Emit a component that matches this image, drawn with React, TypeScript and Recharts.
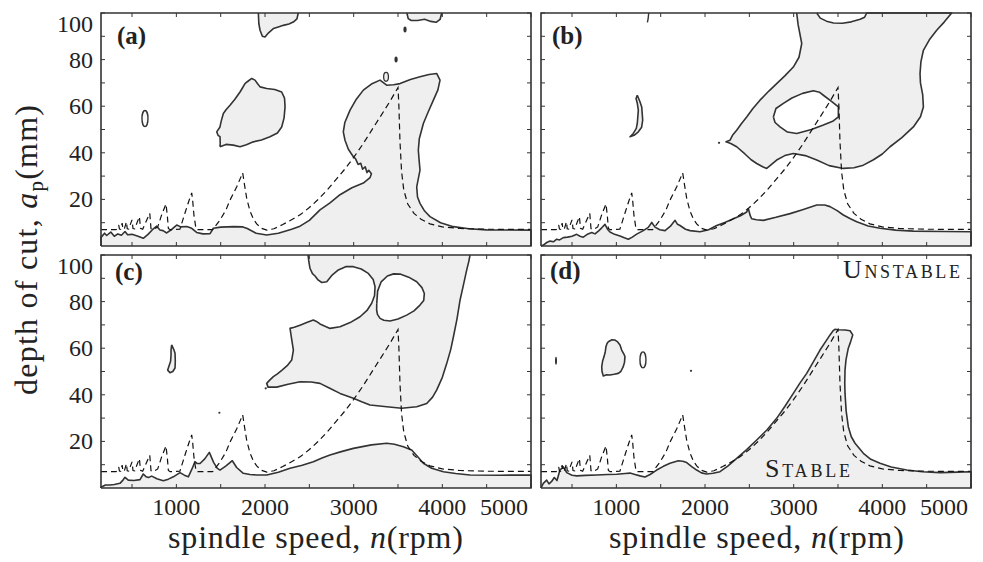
import React from 'react';
import { ScatterChart, Scatter, XAxis, YAxis } from 'recharts';

type Pt = [number, number];

// axes
const X_DOMAIN: [number, number] = [150, 5000];
const Y_DOMAIN: [number, number] = [0, 100];
const xTicks = [500, 1000, 1500, 2000, 2500, 3000, 3500, 4000, 4500, 5000];
const xLabels = [1000, 2000, 3000, 4000, 5000];
const yTicks = [10, 20, 30, 40, 50, 60, 70, 80, 90, 100];
const yLabels = [20, 40, 60, 80, 100];

// analytic stability lobes (dashed), same in every panel
const lobeLine: Pt[] = [
  [150, 7], [320, 7], [338, 7.6], [350, 9], [358, 7.3], [372, 7.2], [389, 9.8], [397, 7.3],
  [412, 7.2], [437, 10.4], [446, 7.4], [462, 7.3], [500, 11.2], [511, 7.5], [530, 7.4],
  [583, 12.6], [596, 7.6], [620, 7.2], [700, 14], [714, 7.5], [740, 7], [790, 8.2],
  [835, 13.5], [883, 18], [898, 13], [910, 7.5], [930, 7], [1040, 7.2], [1100, 14.5],
  [1140, 19.2], [1173, 22.8], [1184, 19.5], [1199, 13], [1222, 7.3], [1240, 7], [1410, 7],
  [1490, 11], [1560, 15.5], [1605, 19.7], [1681, 25.4], [1748, 31.4], [1767, 26.7],
  [1794, 20.3], [1831, 15], [1870, 11.5], [1906, 9.5], [1960, 7.6], [2020, 6.8],
  [2100, 7.4], [2200, 9.2], [2300, 11.3], [2400, 13.5], [2500, 16.5], [2600, 20],
  [2700, 24], [2800, 28.5], [2900, 33], [3000, 38], [3100, 43.5], [3200, 49.5],
  [3300, 55.5], [3400, 61.5], [3500, 68], [3510, 60], [3522, 45], [3540, 32], [3565, 24],
  [3610, 18], [3680, 14], [3760, 11.5], [3860, 9.5], [4000, 8.2], [4200, 7.5], [4500, 7.2],
  [5000, 7.1],
];

// panel (a)
const aStable: Pt[] = [
  [150, 0], [150, 3.7], [190, 5.5], [214, 4.5], [260, 6], [300, 4.2], [340, 5.2], [380, 4.6],
  [421, 6.2], [450, 4.8], [500, 5], [560, 4.3], [627, 3.3], [680, 5], [730, 7], [778, 8.5],
  [815, 6.9], [850, 6.6], [891, 5.6], [950, 7.2], [1004, 9], [1050, 8.2], [1117, 8.4],
  [1173, 7.6], [1229, 5.8], [1300, 5.2], [1380, 5.3], [1417, 7.6], [1500, 8.1], [1650, 8.3],
  [1750, 8.2], [1800, 7.5], [1900, 5.5], [2019, 4.7], [2150, 5.5], [2300, 7.2], [2395, 8.5],
  [2500, 11], [2620, 15.5], [2733, 18.5], [2846, 22], [2980, 25], [3109, 27], [3184, 29.3],
  [3200, 31], [3170, 32.5], [3150, 31.5], [3130, 34], [3100, 33], [3080, 35.5], [3050, 35],
  [3020, 37.5], [2996, 38.3], [2940, 41.5], [2902, 45.4], [2883, 49], [2900, 53], [2959, 58.3],
  [3030, 63], [3109, 66.9], [3200, 69.5], [3297, 71.2], [3372, 69], [3450, 69.2], [3523, 69.7],
  [3640, 71.5], [3748, 72.6], [3850, 73.6], [3937, 74], [3974, 71.2], [3950, 67], [3899, 62.6],
  [3840, 57.5], [3786, 52.6], [3740, 46], [3729, 41.1], [3740, 36], [3748, 32.6], [3711, 25.4],
  [3720, 21], [3748, 18.3], [3800, 15], [3861, 12.6], [3980, 10], [4124, 8.3], [4300, 7.4],
  [4500, 6.9], [5000, 6.8], [5000, 0],
];
const aIsland: Pt[] = [
  [1492, 42.6], [1560, 43.6], [1642, 43.3], [1718, 42.6], [1790, 43.5], [1868, 44.7],
  [1960, 45.5], [2056, 46.9], [2140, 48.5], [2188, 51.1], [2215, 55], [2226, 59.7],
  [2220, 63.5], [2188, 66.1], [2110, 67.2], [2019, 67.6], [1944, 68.3], [1910, 70],
  [1887, 71.2], [1850, 71.9], [1800, 70.5], [1774, 69.7], [1740, 67.5], [1718, 66.1],
  [1660, 63], [1605, 60.4], [1560, 58.5], [1530, 56.9], [1505, 53.5], [1492, 51.1],
  [1455, 49], [1470, 47.5], [1492, 46.9], [1495, 44], [1492, 42.6],
];
const aTopLeft: Pt[] = [
  [1925, 100], [1930, 95.5], [1944, 92.6], [1970, 90], [2000, 89.7], [2040, 91.5],
  [2094, 93.3], [2150, 94], [2206, 94.7], [2270, 95.3], [2319, 96.1], [2360, 97.5], [2375, 100],
];
const aTopRight: Pt[] = [
  [3600, 100], [3615, 97.6], [3650, 96.8], [3720, 96.8], [3800, 97.3], [3870, 96.4],
  [3930, 96], [3975, 97.3], [3993, 100],
];
const aBlobs: Pt[] = [[3579, 92.9], [3478, 80]];
const aRings: Pt[] = [[3365, 72.6]];
const aOvals: Pt[] = [[646, 54.7]];

// panel (b)
const bStable: Pt[] = [
  [150, 0], [176, 0.4], [215, 1.5], [252, 2.1], [290, 1.8], [327, 2.9], [360, 2.6], [402, 3.6],
  [450, 3.8], [500, 4.2], [553, 5], [590, 4.2], [627, 3.8], [680, 5.2], [722, 5.8], [759, 5.2],
  [800, 6.5], [835, 7.8], [872, 9.3], [900, 7.2], [928, 6], [980, 5], [1041, 4.3], [1090, 3.5],
  [1135, 2.9], [1180, 3.8], [1229, 5.1], [1304, 6.6], [1360, 8], [1399, 10.1], [1436, 8.1],
  [1490, 7], [1549, 6.6], [1610, 8.5], [1662, 11], [1690, 9.3], [1718, 8.8], [1780, 7.2],
  [1831, 6.6], [1944, 6.1], [2040, 7], [2132, 8.8], [2230, 10.2], [2320, 11.7], [2400, 13],
  [2470, 14.6], [2489, 16], [2510, 13], [2526, 11.7], [2580, 11.3], [2658, 11], [2800, 12.3],
  [2959, 13.9], [3100, 15.6], [3260, 17.6], [3350, 17.6], [3410, 16.9], [3490, 15.2],
  [3560, 13.3], [3640, 11.7], [3711, 10.4], [3840, 8.6], [3974, 7.6], [4150, 6.8],
  [4350, 6.4], [4700, 6.2], [5000, 6.1], [5000, 0],
];
const bUpper: Pt[] = [
  [3034, 100], [3050, 95], [3091, 86.9], [3060, 81], [2996, 76.8], [2900, 73], [2808, 69.7],
  [2720, 66.5], [2620, 62.6], [2540, 59], [2470, 55.4], [2410, 52.5], [2357, 49.7],
  [2310, 47.5], [2282, 45.4], [2237, 44.7], [2290, 44], [2357, 42.6], [2450, 39.5],
  [2520, 37], [2583, 35.4], [2650, 34], [2696, 33.3], [2750, 35], [2808, 36.9], [2900, 38.8],
  [2996, 39.7], [3130, 38.8], [3260, 36.9], [3400, 34.5], [3560, 33.3], [3680, 33.6],
  [3786, 34.7], [3900, 37], [4000, 39.5], [4087, 42.6], [4220, 46.5], [4350, 51.1],
  [4430, 55.5], [4463, 59.7], [4455, 65], [4430, 70], [4425, 74], [4435, 79], [4463, 84],
  [4530, 88.5], [4613, 92.6], [4700, 96.2], [4782, 100], [3824, 100], [3800, 98.2],
  [3750, 97.3], [3650, 96.2], [3550, 95.6], [3450, 95.7], [3370, 96.5], [3300, 97.8], [3260, 100],
];
const bHole: Pt[] = [
  [2771, 55.4], [2800, 59], [2884, 61.2], [2980, 63.5], [3100, 65.5], [3222, 66.6],
  [3290, 66], [3335, 64.7], [3430, 62], [3504, 59.7], [3504, 55.4], [3440, 53.5],
  [3335, 51.9], [3200, 50], [3034, 48.3], [2930, 48.9], [2846, 51.1], [2790, 53], [2771, 55.4],
];
const bSliver: Pt[] = [
  [1236, 64.7], [1265, 62], [1286, 59.7], [1297, 54], [1285, 51], [1248, 49], [1200, 47.5],
  [1154, 46.9], [1191, 48.3], [1225, 50.5], [1236, 52.6], [1248, 58.3], [1235, 61.5],
  [1222, 63.3], [1236, 64.7],
];
const bTopMark: Pt[] = [[1350, 96], [1358, 97.5], [1365, 100]];
const bDots: Pt[] = [[2158, 44.3]];

// panel (c)
const cStable: Pt[] = [
  [150, 0], [150, 0.3], [200, 1.3], [252, 1.3], [300, 1.5], [364, 2], [400, 3.5], [421, 4.6],
  [458, 3.4], [520, 3.2], [590, 3.6], [627, 6], [660, 4.8], [684, 4.5], [722, 5.1], [780, 4],
  [853, 3.1], [910, 3.8], [966, 4.8], [1041, 6.6], [1090, 5.5], [1135, 4.8], [1180, 8.5],
  [1210, 11.3], [1235, 10.5], [1267, 10.5], [1320, 12.5], [1372, 15.3], [1420, 11],
  [1460, 8.5], [1492, 7.7], [1560, 9.5], [1631, 11.7], [1680, 8.8], [1755, 6.3], [1830, 5.8],
  [1906, 5.6], [2019, 5.6], [2150, 6.8], [2282, 8.5], [2420, 9.8], [2545, 11.3], [2650, 13],
  [2733, 14.2], [2850, 15.5], [2996, 17], [3200, 18.5], [3372, 19.2], [3460, 18.8],
  [3560, 17.7], [3654, 16.3], [3720, 13.5], [3786, 10.6], [3880, 8.5], [4012, 7], [4150, 6.2],
  [4312, 5.6], [4650, 5.5], [5000, 5.6], [5000, 0],
];
const cUpper: Pt[] = [
  [2485, 100], [2495, 97], [2507, 94.3], [2535, 92], [2564, 91], [2598, 89.3], [2640, 88.2],
  [2696, 88.5], [2760, 91.5], [2827, 93.6], [2910, 95], [2996, 95], [3085, 94], [3165, 92.1],
  [3220, 89.5], [3241, 86.4], [3235, 82.5], [3203, 79.3], [3150, 76.2], [3072, 73.5],
  [2960, 71], [2846, 69.2], [2733, 68.5], [2670, 69.5], [2620, 70.4], [2580, 71.5],
  [2545, 72.1], [2470, 71], [2395, 69.9], [2330, 69], [2282, 68.5], [2300, 64], [2320, 59.2],
  [2301, 54.9], [2250, 52.5], [2192, 50.6], [2140, 49], [2094, 47.8], [2050, 46.2],
  [2019, 44.9], [2034, 43.3], [2132, 43.3], [2260, 44.5], [2395, 45.6], [2520, 45.5],
  [2620, 44.9], [2730, 42.8], [2846, 40.6], [2996, 38.5], [3090, 37], [3184, 35.6],
  [3372, 34.9], [3542, 34.2], [3711, 34.9], [3824, 36.3], [3890, 39], [3937, 42.1],
  [4000, 47.5], [4050, 53.5], [4095, 59.5], [4125, 64.9], [4165, 72.5], [4200, 80.7],
  [4240, 87.5], [4275, 93.6], [4300, 97.5], [4312, 100],
];
const cHole: Pt[] = [
  [3260, 79], [3270, 84.5], [3310, 88.5], [3380, 91], [3450, 91.9], [3523, 91.8], [3620, 90.5],
  [3711, 88.5], [3770, 86], [3797, 83.5], [3790, 80.5], [3748, 78.5], [3680, 76], [3598, 74.2],
  [3500, 72.5], [3410, 71.7], [3340, 72], [3297, 72.8], [3268, 74.5], [3259, 76.4], [3260, 79],
];
const cSliver: Pt[] = [
  [947, 61.4], [970, 59.5], [985, 57.8], [988, 54.5], [985, 51.5], [960, 50], [928, 49.5],
  [902, 50.6], [918, 52.5], [935, 54.4], [940, 57], [940, 59.2], [947, 61.4],
];
const cDots: Pt[] = [[2008, 42.8], [1485, 32.3]];

// panel (d)
const dStable: Pt[] = [
  [150, 0], [176, 2], [214, 3.4], [240, 1.8], [270, 2.8], [300, 4.5], [330, 3.2], [364, 7.7],
  [402, 9.1], [440, 6.6], [500, 5.5], [553, 5.2], [650, 5.4], [778, 5.6], [900, 5.8],
  [1004, 5.9], [1100, 6.2], [1154, 6.4], [1210, 5.8], [1267, 5.2], [1323, 4.7], [1380, 5.8],
  [1455, 7.7], [1530, 9.3], [1605, 10.6], [1699, 11.7], [1750, 11.5], [1793, 10.9],
  [1850, 9.2], [1906, 7.7], [1960, 6.5], [2019, 6], [2090, 6.3], [2169, 7], [2260, 9.5],
  [2357, 12.7], [2470, 16.5], [2583, 20.6], [2700, 25], [2808, 29.9], [2900, 35],
  [2996, 40.6], [3070, 45], [3147, 49.2], [3220, 54], [3297, 59.2], [3360, 62.8],
  [3410, 65.7], [3445, 67.5], [3466, 68.1], [3504, 67.9], [3580, 67.8], [3636, 67.5],
  [3666, 65.7], [3640, 62.5], [3616, 60], [3590, 55], [3579, 50.6], [3576, 45], [3579, 40.6],
  [3592, 33], [3616, 26.3], [3650, 22], [3692, 19.2], [3786, 14.9], [3870, 12.3],
  [3974, 10.6], [4100, 9], [4275, 7.7], [4450, 7], [4651, 6.6], [4850, 6.8], [5000, 7], [5000, 0],
];
const dIsland: Pt[] = [
  [909, 62.8], [950, 63.6], [985, 63.5], [1015, 62.7], [1041, 61.4], [1060, 59.2], [1085, 57.5],
  [1097, 56.4], [1092, 54], [1078, 52.1], [1050, 50], [1022, 49.2], [975, 48.8], [928, 48.5],
  [890, 48.6], [853, 48.1], [838, 50], [835, 52.1], [845, 54.5], [861, 56.4], [875, 58.5],
  [883, 60.7], [895, 62], [909, 62.8],
];
const dOvals: Pt[] = [[1300, 55]];
const dDashes: Pt[] = [[319, 54.6]];
const dDots: Pt[] = [[1842, 50.3]];

const frame: Pt[] = [
  [X_DOMAIN[0], Y_DOMAIN[0]], [X_DOMAIN[0], Y_DOMAIN[1]], [X_DOMAIN[1], Y_DOMAIN[1]],
  [X_DOMAIN[1], Y_DOMAIN[0]], [X_DOMAIN[0], Y_DOMAIN[0]],
];

const GRAY = '#efefef';
const INK = '#333';
const FONT = '"Liberation Serif", "Times New Roman", serif';

const ML = 60;
const MT = 6;
const MR = 6;
const MB = 40;

type SpotKind = 'blob' | 'ring' | 'oval' | 'dot' | 'dash';

interface Region {
  pts: Pt[];
  fill: string;
}

interface Spots {
  pts: Pt[];
  kind: SpotKind;
}

interface PanelProps {
  left: number;
  top: number;
  w: number;
  h: number;
  showX: boolean;
  showY: boolean;
  regions: Region[];
  lines?: Pt[][];
  spots?: Spots[];
}

const toData = (pts: Pt[]) => pts.map(([x, y]) => ({ x, y }));
const blank = () => <g />;

const spotShape = (kind: SpotKind) => (p: any) => {
  const { cx, cy } = p;
  if (kind === 'blob') return <ellipse cx={cx} cy={cy} rx={1.6} ry={3} fill={INK} />;
  if (kind === 'ring') return <ellipse cx={cx} cy={cy} rx={2.4} ry={4.5} fill={GRAY} stroke={INK} strokeWidth={1.3} />;
  if (kind === 'oval') return <ellipse cx={cx} cy={cy} rx={3} ry={8} fill="#fafafa" stroke={INK} strokeWidth={1.4} />;
  if (kind === 'dash') return <ellipse cx={cx} cy={cy} rx={1} ry={4} fill={INK} />;
  return <circle cx={cx} cy={cy} r={1.1} fill={INK} />;
};

const Panel: React.FC<PanelProps> = ({ left, top, w, h, showX, showY, regions, lines = [], spots = [] }) => {
  const renderXTick = (p: any) => {
    const { x, y, payload } = p;
    const v = payload.value as number;
    const last = v === X_DOMAIN[1];
    return (
      <g>
        <line x1={x} y1={y} x2={x} y2={y - 4} stroke={INK} strokeWidth={1} />
        <line x1={x} y1={y - h} x2={x} y2={y - h + 4} stroke={INK} strokeWidth={1} />
        {showX && xLabels.includes(v) && (
          <text
            x={last ? x - 3 : x}
            y={y + 27}
            textAnchor={last ? 'end' : 'middle'}
            fontFamily={FONT}
            fontSize={24}
            fill="#222"
          >
            {v}
          </text>
        )}
      </g>
    );
  };

  const renderYTick = (p: any) => {
    const { x, y, payload } = p;
    const v = payload.value as number;
    const shift = v === Y_DOMAIN[1] ? 11 : 0;
    return (
      <g>
        <line x1={x} y1={y} x2={x + 4} y2={y} stroke={INK} strokeWidth={1} />
        <line x1={x + w} y1={y} x2={x + w - 4} y2={y} stroke={INK} strokeWidth={1} />
        {showY && yLabels.includes(v) && (
          <text x={x - 8} y={y + 8 + shift} textAnchor="end" fontFamily={FONT} fontSize={24} fill="#222">
            {v}
          </text>
        )}
      </g>
    );
  };

  return (
    <div style={{ position: 'absolute', left: left - ML, top: top - MT }}>
      <ScatterChart width={ML + w + MR} height={MT + h + MB} margin={{ top: MT, right: MR, bottom: 0, left: 0 }}>
        <XAxis
          type="number"
          dataKey="x"
          domain={X_DOMAIN}
          ticks={xTicks}
          interval={0}
          tick={renderXTick}
          tickLine={false}
          axisLine={false}
          tickSize={0}
          tickMargin={0}
          height={MB}
        />
        <YAxis
          type="number"
          dataKey="y"
          domain={Y_DOMAIN}
          ticks={yTicks}
          interval={0}
          tick={renderYTick}
          tickLine={false}
          axisLine={false}
          tickSize={0}
          tickMargin={0}
          width={ML}
        />
        {regions.map((r, i) => (
          <Scatter
            key={`region-${i}`}
            data={toData(r.pts)}
            fill="none"
            line={{ fill: r.fill, stroke: INK, strokeWidth: 1.6, strokeLinejoin: 'round' }}
            shape={blank}
            isAnimationActive={false}
          />
        ))}
        {lines.map((l, i) => (
          <Scatter
            key={`line-${i}`}
            data={toData(l)}
            fill="none"
            line={{ stroke: INK, strokeWidth: 1.4 }}
            shape={blank}
            isAnimationActive={false}
          />
        ))}
        <Scatter
          data={toData(lobeLine)}
          fill="none"
          line={{ stroke: '#111', strokeWidth: 1.2, strokeDasharray: '6 4' }}
          shape={blank}
          isAnimationActive={false}
        />
        {spots.map((s, i) => (
          <Scatter
            key={`spot-${i}`}
            data={toData(s.pts)}
            fill={INK}
            shape={spotShape(s.kind)}
            isAnimationActive={false}
          />
        ))}
        <Scatter
          data={toData(frame)}
          fill="none"
          line={{ fill: 'none', stroke: INK, strokeWidth: 1.6 }}
          shape={blank}
          isAnimationActive={false}
        />
      </ScatterChart>
    </div>
  );
};

const App: React.FC = () => {
  const W = 430;
  const H = 233;
  return (
    <div style={{ position: 'absolute', left: 0, top: 0, width: 983, height: 562, background: '#fff', overflow: 'hidden' }}>
      <Panel
        left={101} top={13} w={W} h={H} showX={false} showY
        regions={[
          { pts: aStable, fill: GRAY },
          { pts: aIsland, fill: GRAY },
          { pts: aTopLeft, fill: GRAY },
          { pts: aTopRight, fill: GRAY },
        ]}
        spots={[
          { pts: aBlobs, kind: 'blob' },
          { pts: aRings, kind: 'ring' },
          { pts: aOvals, kind: 'oval' },
        ]}
      />
      <Panel
        left={541} top={13} w={W} h={H} showX={false} showY={false}
        regions={[
          { pts: bStable, fill: GRAY },
          { pts: bUpper, fill: GRAY },
          { pts: bHole, fill: '#fff' },
          { pts: bSliver, fill: GRAY },
        ]}
        lines={[bTopMark]}
        spots={[{ pts: bDots, kind: 'dot' }]}
      />
      <Panel
        left={101} top={255} w={W} h={H} showX showY
        regions={[
          { pts: cStable, fill: GRAY },
          { pts: cUpper, fill: GRAY },
          { pts: cHole, fill: '#fff' },
          { pts: cSliver, fill: GRAY },
        ]}
        spots={[{ pts: cDots, kind: 'dot' }]}
      />
      <Panel
        left={541} top={255} w={W} h={H} showX showY={false}
        regions={[
          { pts: dStable, fill: GRAY },
          { pts: dIsland, fill: GRAY },
        ]}
        spots={[
          { pts: dOvals, kind: 'oval' },
          { pts: dDashes, kind: 'dash' },
          { pts: dDots, kind: 'dot' },
        ]}
      />
      <svg
        width={983}
        height={562}
        style={{ position: 'absolute', left: 0, top: 0, pointerEvents: 'none' }}
        fontFamily={FONT}
        fill="#222"
      >
        <text x={117} y={44} fontSize={25} fontWeight="bold">(a)</text>
        <text x={552} y={44} fontSize={25} fontWeight="bold">(b)</text>
        <text x={115} y={280} fontSize={25} fontWeight="bold">(c)</text>
        <text x={550} y={279} fontSize={25} fontWeight="bold">(d)</text>
        <text x={843} y={278} fontSize={26} textLength={117} lengthAdjust="spacing" style={{ fontVariant: 'small-caps' }}>
          Unstable
        </text>
        <text x={765} y={477} fontSize={26} textLength={85} lengthAdjust="spacing" style={{ fontVariant: 'small-caps' }}>
          Stable
        </text>
        <text x={168} y={548} fontSize={32} textLength={295} lengthAdjust="spacing">
          spindle speed, <tspan fontStyle="italic">n</tspan>(rpm)
        </text>
        <text x={609} y={548} fontSize={32} textLength={295} lengthAdjust="spacing">
          spindle speed, <tspan fontStyle="italic">n</tspan>(rpm)
        </text>
        <text x={37} y={395} fontSize={32} textLength={290} lengthAdjust="spacing" transform="rotate(-90 37 395)">
          depth of cut, <tspan fontStyle="italic">a</tspan>
          <tspan fontSize={21} dy={6}>p</tspan>
          <tspan dy={-6}>(mm)</tspan>
        </text>
      </svg>
    </div>
  );
};

export default App;
